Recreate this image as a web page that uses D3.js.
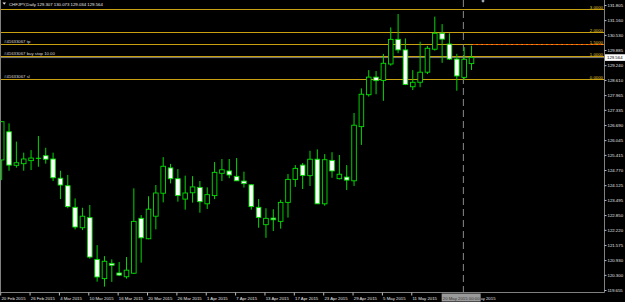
<!DOCTYPE html>
<html>
<head>
<meta charset="utf-8">
<script src="https://cdn.jsdelivr.net/npm/d3@7"></script>
<style>
html, body { margin: 0; padding: 0; background: #000; }
svg { display: block; }
text { font-family: "Liberation Sans", Arial, sans-serif; }
</style>
</head>
<body>
<svg id="chart" width="625" height="302"></svg>
<script>
// CHFJPY daily bars
const dates = ["20 Feb 2015","23 Feb 2015","24 Feb 2015","25 Feb 2015","26 Feb 2015","27 Feb 2015",
  "2 Mar 2015","3 Mar 2015","4 Mar 2015","5 Mar 2015","6 Mar 2015","9 Mar 2015","10 Mar 2015","11 Mar 2015",
  "12 Mar 2015","13 Mar 2015","16 Mar 2015","17 Mar 2015","18 Mar 2015","19 Mar 2015","20 Mar 2015",
  "23 Mar 2015","24 Mar 2015","25 Mar 2015","26 Mar 2015","27 Mar 2015","30 Mar 2015","31 Mar 2015",
  "1 Apr 2015","2 Apr 2015","3 Apr 2015","6 Apr 2015","7 Apr 2015","8 Apr 2015","9 Apr 2015","10 Apr 2015",
  "13 Apr 2015","14 Apr 2015","15 Apr 2015","16 Apr 2015","17 Apr 2015","20 Apr 2015","21 Apr 2015",
  "22 Apr 2015","23 Apr 2015","24 Apr 2015","27 Apr 2015","28 Apr 2015","29 Apr 2015","30 Apr 2015",
  "1 May 2015","4 May 2015","5 May 2015","6 May 2015","7 May 2015","8 May 2015","11 May 2015","12 May 2015",
  "13 May 2015","14 May 2015","15 May 2015","18 May 2015","19 May 2015","20 May 2015","21 May 2015"];

const opens = [125.20,126.40,124.97,125.04,125.17,125.27,125.38,125.24,124.42,124.10,
  123.18,122.31,122.74,120.96,120.14,120.79,120.38,120.22,120.37,122.71,
  121.84,122.80,123.78,124.86,124.40,123.53,123.80,124.03,123.33,123.68,
  124.63,124.73,124.50,124.30,124.14,123.18,122.44,122.72,122.58,123.39,
  124.37,124.98,124.53,125.23,123.33,125.18,124.40,124.47,124.31,126.62,
  127.98,128.73,128.59,129.29,130.34,129.89,128.32,128.51,128.94,129.92,
  130.60,130.14,129.50,128.72,129.307];

const highs = [126.86,126.76,125.98,125.51,125.62,126.22,125.72,125.51,124.74,124.56,
  123.56,123.16,123.28,121.57,121.10,120.96,120.85,121.06,123.99,122.85,
  123.65,124.13,125.32,125.03,124.81,124.53,124.51,124.30,124.03,125.11,
  125.24,125.24,125.28,124.70,124.17,123.53,123.14,123.10,123.50,124.60,
  124.98,125.07,125.59,125.65,125.45,125.53,125.41,124.98,127.20,128.25,
  129.03,128.99,129.72,130.85,131.42,130.38,129.03,130.24,130.06,131.31,
  130.99,130.60,129.72,130.01,130.073];

const lows = [124.34,124.74,124.87,124.74,124.77,124.91,125.04,124.30,123.53,123.14,
  122.24,122.21,120.99,120.01,119.80,120.00,120.25,120.14,120.34,120.82,
  121.82,122.24,123.39,124.20,123.42,123.08,123.38,122.95,123.11,123.53,
  124.30,124.42,124.30,124.02,123.08,122.31,121.88,122.17,122.27,122.74,
  124.05,123.96,124.09,123.32,123.25,124.44,124.37,123.92,124.09,125.84,
  127.90,128.00,127.72,129.22,129.75,128.39,128.18,128.30,128.86,129.86,
  129.34,129.46,128.15,128.61,129.034];

const closes = [126.83,124.98,125.08,125.24,125.28,125.27,125.23,124.44,124.13,123.21,
  122.34,122.80,121.06,120.21,120.88,120.71,120.29,120.50,122.58,121.88,
  123.10,123.79,124.93,124.40,123.68,123.79,124.05,123.42,123.72,124.67,
  124.78,124.56,124.31,124.19,123.21,122.75,122.71,122.65,123.39,124.37,
  124.84,124.54,125.23,123.33,125.21,124.73,124.59,124.34,126.68,128.00,
  128.73,128.58,129.32,130.34,129.89,128.42,128.51,128.94,129.96,130.60,
  130.35,129.50,128.78,129.49,129.564];

const priceTicks = [131.805,131.160,130.530,129.885,129.240,128.610,127.965,127.335,126.690,126.045,
  125.415,124.770,124.125,123.495,122.850,122.220,121.575,120.930,120.300,119.655];

// the 15 May and 21 May labels sit under the date box of the vertical line
const dateTicks = ["20 Feb 2015","26 Feb 2015","4 Mar 2015","10 Mar 2015","16 Mar 2015","20 Mar 2015",
  "26 Mar 2015","1 Apr 2015","7 Apr 2015","13 Apr 2015","17 Apr 2015","23 Apr 2015","29 Apr 2015",
  "5 May 2015","11 May 2015"];
const hiddenTick = "21 May 2015";

const fibLevels = ["0.0000","1.0000","1.5000","2.0000","3.0000"];
const fibPrices = [128.636,129.617,130.13,130.64,131.62];

const orderLabels = ["#41633067 sl","#41633067 buy stop 10.00","#41633067 tp"];
const orderPrices = [128.636,129.617,130.141];

const title = "CHFJPY,Daily 129.307 130.073 129.034 129.564";
const bid = 129.564;
const vlineDate = "20 May 2015";

const svg = d3.select("svg#chart");
const plotRight = 604.5;
const plotBottom = 292.5;
const fs = "4.3px";

const x = d3.scalePoint().domain(dates).range([1.7, 471.5]);
const y = d3.scaleLinear().domain([119.655, 131.805]).range([290, 5]);
const crisp = v => Math.round(v) + 0.5;

svg.append("rect").attr("width", 625).attr("height", 302).attr("fill", "#000");

// level lines (fibo + orders)
const levels = svg.append("g").attr("class", "levels");
levels.selectAll("line.fib")
  .data(fibPrices)
  .enter().append("line")
    .attr("class", "fib")
    .attr("x1", 0).attr("x2", plotRight)
    .attr("y1", d => crisp(y(d))).attr("y2", d => crisp(y(d)))
    .attr("stroke", "#c8a010")
    .attr("stroke-width", 1);

levels.append("line")
  .attr("x1", 0).attr("x2", plotRight)
  .attr("y1", crisp(y(orderPrices[2]))).attr("y2", crisp(y(orderPrices[2])))
  .attr("stroke", "#c8a010");

levels.append("line")
  .attr("x1", 473).attr("x2", plotRight)
  .attr("y1", crisp(y(orderPrices[2]))).attr("y2", crisp(y(orderPrices[2])))
  .attr("stroke", "#ff4a00")
  .attr("stroke-dasharray", "3,2");

// bid line
levels.append("line")
  .attr("x1", 0).attr("x2", plotRight)
  .attr("y1", y(bid)).attr("y2", y(bid))
  .attr("stroke", "#7a7a7a");

levels.selectAll("text.fib")
  .data(fibPrices)
  .enter().append("text")
    .attr("class", "fib")
    .attr("x", 603)
    .attr("y", d => crisp(y(d)) - 1)
    .attr("text-anchor", "end")
    .attr("font-size", fs)
    .attr("fill", "#e0c830")
    .text((d, i) => fibLevels[i]);

levels.selectAll("text.order")
  .data(orderPrices)
  .enter().append("text")
    .attr("class", "order")
    .attr("x", 4)
    .attr("y", d => crisp(y(d)) - 1.3)
    .attr("font-size", fs)
    .attr("fill", "#d8d8d8")
    .text((d, i) => orderLabels[i]);

// vertical dashed line
svg.append("line")
  .attr("x1", x(vlineDate) - 0.8).attr("x2", x(vlineDate) - 0.8)
  .attr("y1", 0).attr("y2", plotBottom)
  .attr("stroke", "#8a8a8a")
  .attr("stroke-dasharray", "7,4");

// candles
const bars = dates.map((d, i) => ({date: d, o: opens[i], h: highs[i], l: lows[i], c: closes[i]}));
const candle = svg.append("g").attr("class", "candles")
  .selectAll("g")
  .data(bars)
  .enter().append("g");

candle.append("line")
  .attr("x1", d => x(d.date)).attr("x2", d => x(d.date))
  .attr("y1", d => y(d.h)).attr("y2", d => y(d.l))
  .attr("stroke", "#00d800")
  .attr("stroke-width", 1);

candle.filter(d => Math.abs(d.o - d.c) < 0.02).append("line")
  .attr("x1", d => x(d.date) - 2.5).attr("x2", d => x(d.date) + 2.5)
  .attr("y1", d => y(d.c)).attr("y2", d => y(d.c))
  .attr("stroke", "#00ff00");

candle.filter(d => Math.abs(d.o - d.c) >= 0.02).append("rect")
  .attr("x", d => x(d.date) - 2.3)
  .attr("width", 4.6)
  .attr("y", d => y(Math.max(d.o, d.c)))
  .attr("height", d => Math.max(1, Math.abs(y(d.o) - y(d.c))))
  .attr("fill", d => d.c < d.o ? "#ffffff" : "#000000")
  .attr("stroke", "#00e000")
  .attr("stroke-width", 0.9);

// frame
svg.append("line").attr("x1", 0.5).attr("x2", 0.5).attr("y1", 0).attr("y2", plotBottom).attr("stroke", "#808080");
svg.append("line").attr("x1", 0).attr("x2", plotRight).attr("y1", plotBottom).attr("y2", plotBottom).attr("stroke", "#808080");
svg.append("line").attr("x1", plotRight).attr("x2", plotRight).attr("y1", 0).attr("y2", plotBottom).attr("stroke", "#808080");

// price axis
const yAxis = svg.append("g")
  .attr("transform", `translate(${plotRight},0)`)
  .call(d3.axisRight(y).tickValues(priceTicks).tickSize(2).tickPadding(1).tickFormat(d3.format(".3f")));
yAxis.select(".domain").remove();
yAxis.selectAll("line").attr("stroke", "#bbbbbb");
yAxis.selectAll("text").attr("font-size", fs).attr("fill", "#e4e4e4").attr("font-family", null);

// time axis
const xAxis = svg.append("g")
  .attr("transform", `translate(0,${plotBottom})`)
  .call(d3.axisBottom(x).tickValues(dateTicks).tickSize(3).tickPadding(0));
xAxis.select(".domain").remove();
xAxis.selectAll("line").attr("x1", -1.5).attr("x2", -1.5).attr("stroke", "#bbbbbb");
xAxis.selectAll("text")
  .attr("font-size", fs).attr("font-family", null)
  .attr("fill", "#e4e4e4")
  .attr("text-anchor", "start")
  .attr("x", -0.8).attr("y", 7.3).attr("dy", null);

// date box of the vertical line
const vx = x(vlineDate);
const boxRight = vx + 16.5;

// only the tail of the 21 May label shows to the right of the box
svg.append("defs").append("clipPath").attr("id", "tailclip")
  .append("rect").attr("x", boxRight + 0.5).attr("y", plotBottom).attr("width", 40).attr("height", 10);
svg.append("text")
  .attr("clip-path", "url(#tailclip)")
  .attr("x", x(hiddenTick) - 0.8).attr("y", plotBottom + 7.3)
  .attr("font-size", fs)
  .attr("fill", "#e4e4e4")
  .text(hiddenTick);

svg.append("rect")
  .attr("x", vx - 22.5).attr("y", plotBottom + 1)
  .attr("width", 39).attr("height", 8)
  .attr("fill", "#9a9a9a");
svg.append("text")
  .attr("x", vx - 3).attr("y", plotBottom + 7.3)
  .attr("text-anchor", "middle")
  .attr("font-size", fs)
  .attr("fill", "#333")
  .text(vlineDate + " 00:00");

// bid price tag
svg.append("rect")
  .attr("x", plotRight + 0.5).attr("y", y(bid) - 3.3)
  .attr("width", 20).attr("height", 6.6)
  .attr("fill", "#ffffff");
svg.append("text")
  .attr("x", plotRight + 2.5).attr("y", y(bid) + 1.5)
  .attr("font-size", fs)
  .attr("fill", "#000")
  .text(d3.format(".3f")(bid));

// title
svg.append("path")
  .attr("d", "M2.5,2.6 L6,2.6 L4.25,4.8 Z")
  .attr("fill", "#e0e0e0");
svg.append("text")
  .attr("x", 9).attr("y", 5.6)
  .attr("font-size", fs)
  .attr("fill", "#e8e8e8")
  .text(title);

// small marker at the top
svg.append("circle").attr("cx", 483).attr("cy", 1).attr("r", 1.4).attr("fill", "#9aa8b8");
</script>
</body>
</html>
